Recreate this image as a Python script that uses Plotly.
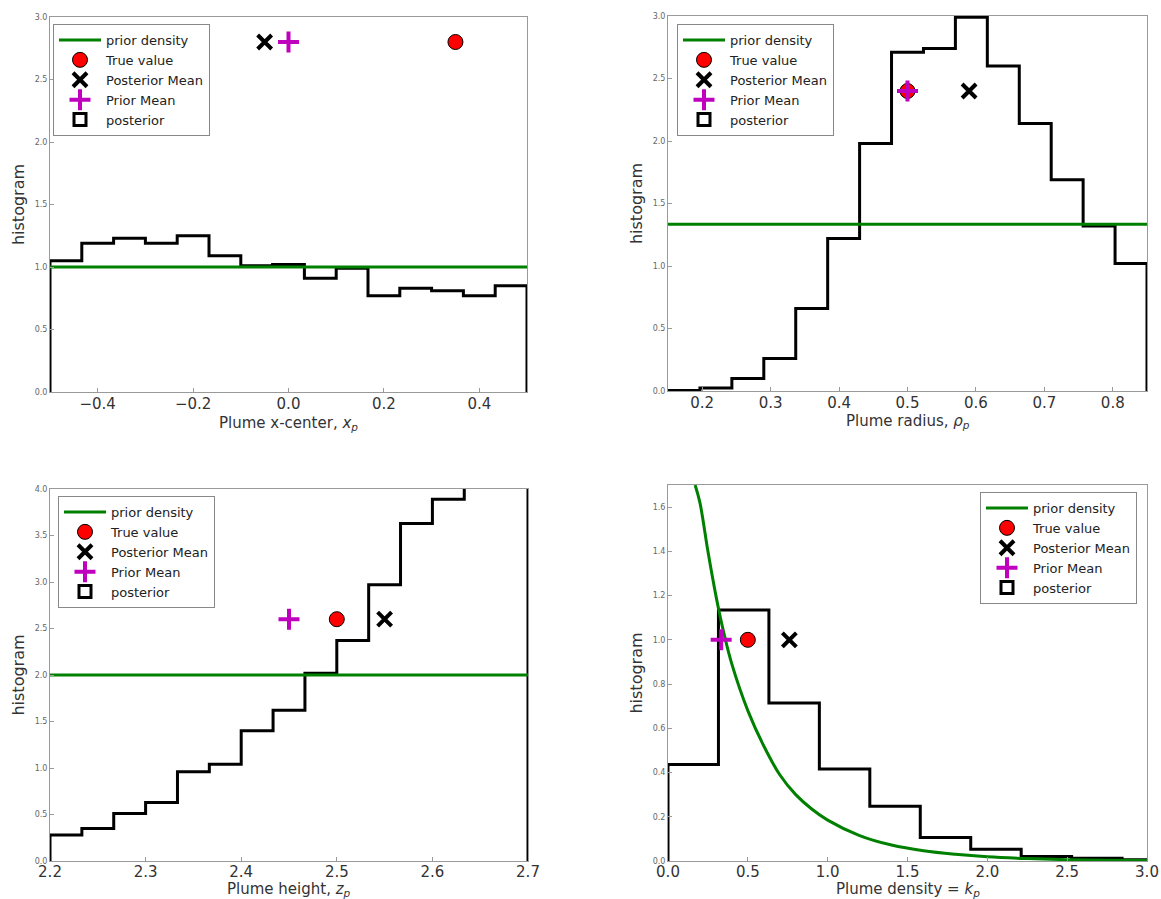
import plotly.graph_objects as go
import numpy as np

# ---------------- data ----------------
# Panel 1: plume x-center
xc_lo, xc_hi, xc_nbins = -0.5, 0.5, 15
xc_hist = [1.05, 1.19, 1.23, 1.19, 1.25, 1.09, 1.01, 1.02, 0.91, 0.99, 0.77, 0.83, 0.81, 0.77, 0.85]
xc_prior_level = 1.0
xc_true, xc_post_mean, xc_prior_mean, xc_marker_y = 0.35, -0.05, 0.0, 2.8

# Panel 2: plume radius
rad_lo, rad_hi, rad_nbins = 0.15, 0.85, 15
rad_hist = [0.005, 0.025, 0.10, 0.26, 0.66, 1.22, 1.98, 2.71, 2.74, 2.99, 2.60, 2.14, 1.69, 1.32, 1.02]
rad_prior_level = 1.3333
rad_true, rad_post_mean, rad_prior_mean, rad_marker_y = 0.5, 0.59, 0.5, 2.4

# Panel 3: plume height
ht_lo, ht_hi, ht_nbins = 2.2, 2.7, 15
ht_hist = [0.28, 0.35, 0.51, 0.63, 0.96, 1.04, 1.40, 1.62, 2.02, 2.37, 2.97, 3.63, 3.89, 4.30, 4.60]
ht_prior_level = 2.0
ht_true, ht_post_mean, ht_prior_mean, ht_marker_y = 2.5, 2.55, 2.45, 2.6

# Panel 4: plume density
den_lo, den_binw, den_nbins = 0.0, 0.316, 10
den_hist = [0.436, 1.135, 0.714, 0.416, 0.247, 0.106, 0.053, 0.020, 0.012, 0.006]
den_prior_x = [0.17, 0.20, 0.25, 0.30, 0.35, 0.40, 0.50, 0.60, 0.70, 0.80, 0.90, 1.00,
               1.20, 1.40, 1.60, 1.80, 2.00, 2.25, 2.50, 2.75, 3.00]
den_prior_y = [1.70, 1.62, 1.40, 1.20, 1.03, 0.89, 0.68, 0.52, 0.39, 0.30, 0.235, 0.185,
               0.115, 0.072, 0.046, 0.030, 0.019, 0.011, 0.006, 0.0035, 0.002]
den_true, den_post_mean, den_prior_mean, den_marker_y = 0.5, 0.76, 0.333, 1.0

x_titles = ["Plume x-center, <i>x<sub>p</sub></i>",
            "Plume radius, <i>ρ<sub>p</sub></i>",
            "Plume height, <i>z<sub>p</sub></i>",
            "Plume density = <i>k<sub>p</sub></i>"]
y_title = "histogram"

# ---------------- styling ----------------
W, H = 1161, 899
FONT = "DejaVu Sans"
GREEN = "#008000"
MAGENTA = "#BF00BF"

# panel boxes in pixels: left, right, top, bottom
boxes = [(50, 527, 17, 392), (668, 1147, 16, 391), (50, 528, 489, 861), (668, 1147, 485, 861)]
xtitle_y = [423, 422, 889, 889]
xtick_standoff = [-2, -2, -3, -3]
legend_pos = [(53, 24), (677, 24), (58, 496), (1137, 492)]
legend_anchor = ["left", "left", "left", "right"]

xranges = [[xc_lo, xc_hi], [rad_lo, rad_hi], [ht_lo, ht_hi], [0.0, 3.0]]
yranges = [[0, 3.0], [0, 3.0], [0, 4.0], [0, 1.7]]
xticks = [[-0.4, -0.2, 0.0, 0.2, 0.4], [0.2, 0.3, 0.4, 0.5, 0.6, 0.7, 0.8],
          [2.2, 2.3, 2.4, 2.5, 2.6, 2.7], [0.0, 0.5, 1.0, 1.5, 2.0, 2.5, 3.0]]
ydticks = [0.5, 0.5, 0.5, 0.2]


def step_xy(edges, vals):
    xs = [edges[0], edges[0]] + list(edges[1:-1]) + [edges[-1]]
    ys = [0] + list(vals) + [0]
    return xs, ys


fig = go.Figure()

panels = [
    (np.linspace(xc_lo, xc_hi, xc_nbins + 1), xc_hist, "flat", xc_prior_level,
     (xc_true, xc_post_mean, xc_prior_mean, xc_marker_y)),
    (np.linspace(rad_lo, rad_hi, rad_nbins + 1), rad_hist, "flat", rad_prior_level,
     (rad_true, rad_post_mean, rad_prior_mean, rad_marker_y)),
    (np.linspace(ht_lo, ht_hi, ht_nbins + 1), ht_hist, "flat", ht_prior_level,
     (ht_true, ht_post_mean, ht_prior_mean, ht_marker_y)),
    (den_lo + den_binw * np.arange(den_nbins + 1), den_hist, "curve", None,
     (den_true, den_post_mean, den_prior_mean, den_marker_y)),
]

for i, (edges, vals, kind, level, mk) in enumerate(panels):
    n = i + 1
    xa = "x" if n == 1 else f"x{n}"
    ya = "y" if n == 1 else f"y{n}"
    lg = "legend" if n == 1 else f"legend{n}"
    sx, sy = step_xy(edges, vals)
    fig.add_trace(go.Scatter(x=sx, y=sy, mode="lines", line=dict(color="black", width=3, shape="hv"),
                             showlegend=False, xaxis=xa, yaxis=ya, hoverinfo="skip"))
    if kind == "flat":
        px, py = xranges[i], [level, level]
    else:
        px, py = den_prior_x, den_prior_y
    fig.add_trace(go.Scatter(x=px, y=py, mode="lines", name="prior density",
                             line=dict(color=GREEN, width=3, shape="spline" if kind == "curve" else "linear"),
                             xaxis=xa, yaxis=ya, legend=lg))
    t, pm, prm, my = mk
    fig.add_trace(go.Scatter(x=[t], y=[my], mode="markers", name="True value",
                             marker=dict(symbol="circle", size=15, color="#FF0000",
                                         line=dict(color="black", width=1)),
                             xaxis=xa, yaxis=ya, legend=lg))
    fig.add_trace(go.Scatter(x=[pm], y=[my], mode="markers", name="Posterior Mean",
                             marker=dict(symbol="x-thin", size=14, color="black",
                                         line=dict(color="black", width=4)),
                             xaxis=xa, yaxis=ya, legend=lg))
    fig.add_trace(go.Scatter(x=[prm], y=[my], mode="markers", name="Prior Mean",
                             marker=dict(symbol="cross-thin", size=15, color=MAGENTA,
                                         line=dict(color=MAGENTA, width=4)),
                             xaxis=xa, yaxis=ya, legend=lg))
    fig.add_trace(go.Bar(x=[None], y=[None], name="posterior",
                         marker=dict(color="white", line=dict(color="black", width=3)),
                         xaxis=xa, yaxis=ya, legend=lg))

layout = dict(
    width=W, height=H, margin=dict(l=0, r=0, t=0, b=0),
    paper_bgcolor="white", plot_bgcolor="white",
    font=dict(family=FONT, color="#222"),
    annotations=[],
)

for i, (l, r, t, b) in enumerate(boxes):
    n = i + 1
    xk = "xaxis" if n == 1 else f"xaxis{n}"
    yk = "yaxis" if n == 1 else f"yaxis{n}"
    ya = "y" if n == 1 else f"y{n}"
    xa = "x" if n == 1 else f"x{n}"
    layout[xk] = dict(
        domain=[l / W, r / W], range=xranges[i], anchor=ya,
        tickvals=xticks[i], tickformat=".1f",
        showline=True, mirror=True, linecolor="#9a9a9a", linewidth=1,
        showgrid=False, zeroline=False, ticks="inside", ticklen=4, tickcolor="#9a9a9a",
        tickfont=dict(size=15, family=FONT, color="#333"),
        ticklabelstandoff=xtick_standoff[i],
        automargin=False,
    )
    layout["annotations"].append(dict(
        text=x_titles[i], xref="paper", yref="paper",
        x=(l + r) / 2 / W, y=1 - xtitle_y[i] / H, xanchor="center", yanchor="middle",
        showarrow=False, font=dict(size=15, family=FONT, color="#333"),
    ))
    layout[yk] = dict(
        domain=[1 - b / H, 1 - t / H], range=yranges[i], anchor=xa,
        dtick=ydticks[i], tick0=0, tickformat=".1f",
        showline=True, mirror=True, linecolor="#9a9a9a", linewidth=1,
        showgrid=False, zeroline=False, ticks="inside", ticklen=4, tickcolor="#9a9a9a",
        tickfont=dict(size=8, family=FONT, color="#666"),
        title=dict(text=y_title, font=dict(size=16, family=FONT, color="#333"), standoff=6),
        automargin=False,
    )
    lk = "legend" if n == 1 else f"legend{n}"
    lx, ly = legend_pos[i]
    layout[lk] = dict(
        x=lx / W, y=1 - ly / H, xanchor=legend_anchor[i], yanchor="top",
        bgcolor="white", bordercolor="#888", borderwidth=1,
        font=dict(size=13, family=FONT, color="#222"),
        tracegroupgap=0, itemwidth=42,
    )

fig.update_layout(**layout)
fig.write_html("out.html", config={"displayModeBar": False},
               post_script="document.body.style.margin='0px';document.body.style.overflow='hidden';")
